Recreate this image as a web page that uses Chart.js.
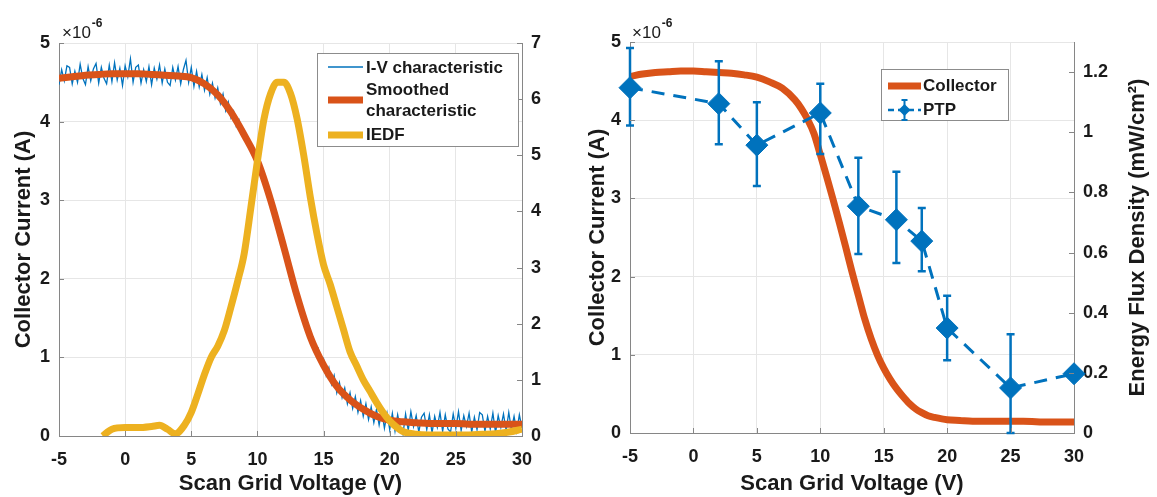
<!DOCTYPE html>
<html><head><meta charset="utf-8">
<script src="https://cdn.jsdelivr.net/npm/chart.js@4.4.1/dist/chart.umd.min.js"></script>
<style>
html,body{margin:0;padding:0;background:#fff;width:1157px;height:497px;overflow:hidden;}
.box{position:absolute;top:0;height:497px;}
</style></head><body>
<div class="box" style="left:0;width:575px"><canvas id="c1"></canvas></div>
<div class="box" style="left:575px;width:582px"><canvas id="c2"></canvas></div>
<script>
// ---------- data ----------
const voltageTicks = [-5, 0, 5, 10, 15, 20, 25, 30];
const currentTicks = [0, 1, 2, 3, 4, 5];
const iedfTicks = [0, 1, 2, 3, 4, 5, 6, 7];
const fluxTicks = [0, 0.2, 0.4, 0.6, 0.8, 1, 1.2];

// I-V characteristic (raw, units of 1e-6 A)
const ivVoltage = [-5,-4.8,-4.6,-4.4,-4.2,-4,-3.8,-3.6,-3.4,-3.2,-3,-2.8,-2.6,-2.4,-2.2,-2,-1.8,-1.6,-1.4,-1.2,-1,-0.8,-0.6,-0.4,-0.2,0,0.2,0.4,0.6,0.8,1,1.2,1.4,1.6,1.8,2,2.2,2.4,2.6,2.8,3,3.2,3.4,3.6,3.8,4,4.2,4.4,4.6,4.8,5,
 5.2,5.4,5.6,5.8,6,6.2,6.4,6.6,6.8,7,7.2,7.4,7.6,7.8,8,8.2,8.4,8.6,8.8,9,9.2,9.4,9.6,9.8,10,
 10.2,10.4,10.6,10.8,11,11.2,11.4,11.6,11.8,12,12.2,12.4,12.6,12.8,13,13.2,13.4,13.6,13.8,14,14.2,14.4,14.6,14.8,15,
 15.2,15.4,15.6,15.8,16,16.2,16.4,16.6,16.8,17,17.2,17.4,17.6,17.8,18,18.2,18.4,18.6,18.8,19,19.2,19.4,19.6,19.8,20,
 20.2,20.4,20.6,20.8,21,21.2,21.4,21.6,21.8,22,22.2,22.4,22.6,22.8,23,23.2,23.4,23.6,23.8,24,24.2,24.4,24.6,24.8,25,
 25.2,25.4,25.6,25.8,26,26.2,26.4,26.6,26.8,27,27.2,27.4,27.6,27.8,28,28.2,28.4,28.6,28.8,29,29.2,29.4,29.6,29.8,30];
const ivCurrent = [4.47,4.66,4.52,4.71,4.69,4.48,4.64,4.50,4.73,4.55,4.47,4.70,4.52,4.67,4.74,4.49,4.69,4.55,4.48,4.72,4.51,4.75,4.53,4.68,4.46,4.71,4.57,4.80,4.50,4.69,4.72,4.49,4.66,4.51,4.70,4.47,4.68,4.54,4.72,4.49,4.67,4.50,4.46,4.69,4.53,4.70,4.48,4.66,4.78,4.50,4.69,
 4.45,4.64,4.44,4.60,4.40,4.56,4.35,4.49,4.30,4.43,4.23,4.35,4.14,4.25,4.05,4.13,3.94,4.02,3.83,3.89,3.72,3.76,3.59,3.62,3.45,
 3.44,3.26,3.25,3.06,3.04,2.84,2.80,2.60,2.57,2.36,2.32,2.11,2.07,1.86,1.83,1.62,1.63,1.41,1.43,1.20,1.25,1.05,1.11,0.91,0.98,
 0.77,0.87,0.66,0.77,0.55,0.68,0.49,0.61,0.41,0.55,0.35,0.50,0.30,0.45,0.25,0.41,0.21,0.37,0.17,0.34,0.14,0.32,0.10,0.29,0.08,
 0.29,0.06,0.27,0.10,0.02,0.28,0.07,0.31,0.12,0.26,0.05,0.24,0.29,0.08,0.27,0.04,0.25,0.11,0.30,0.06,0.27,0.09,0.05,0.28,0.10,
 0.31,0.07,0.26,0.12,0.29,0.05,0.24,0.08,0.30,0.27,0.06,0.25,0.09,0.29,0.04,0.26,0.11,0.28,0.07,0.30,0.08,0.25,0.06,0.27,0.10];

// Smoothed characteristic
const smoothVoltage = [-5,-4,-3,-2,-1,0,1,2,3,4,5,6,7,8,9,10,11,12,13,14,15,16,17,18,19,20,21,22,23,24,25,26,27,28,29,30];
const smoothCurrent = [4.55,4.57,4.59,4.60,4.61,4.61,4.61,4.60,4.59,4.58,4.56,4.48,4.34,4.12,3.83,3.50,3.00,2.40,1.78,1.26,0.90,0.63,0.46,0.34,0.25,0.20,0.18,0.17,0.16,0.16,0.16,0.15,0.15,0.15,0.15,0.15];

// IEDF (right axis, left panel)
const iedfVoltage = [-1.7,-1,0,1,2,2.6,3.2,3.8,4.5,5,5.5,6,6.5,7,7.5,8,8.5,9,9.5,10,10.5,11,11.5,12,12.5,13,13.5,14,14.5,15,15.5,16,16.5,17,17.5,18,18.5,19,19.5,20,20.5,21,22,23,24,25,26,27,28,29,30];
const iedfValue = [0,0.12,0.15,0.15,0.17,0.19,0.12,0.04,0.2,0.42,0.75,1.1,1.4,1.6,1.88,2.3,2.75,3.25,4.06,4.9,5.65,6.1,6.3,6.3,6.1,5.65,5.0,4.25,3.6,3.05,2.7,2.3,1.9,1.5,1.25,1.0,0.8,0.6,0.42,0.27,0.16,0.08,0.03,0.02,0.02,0.02,0.02,0.03,0.04,0.07,0.12];

// Collector (right panel)
const collectorVoltage = [-5,-4,-3,-2,-1,0,1,2,3,4,5,6,7,8,8.5,9,9.5,10,10.5,11,11.5,12,12.5,13,13.5,14,14.5,15,15.5,16,16.5,17,17.5,18,18.5,19,20,21,22,24,26,28,30];
const collectorCurrent = [4.56,4.59,4.61,4.62,4.63,4.63,4.62,4.61,4.60,4.58,4.55,4.49,4.41,4.26,4.15,4.01,3.83,3.56,3.28,2.99,2.69,2.38,2.06,1.76,1.46,1.21,1.00,0.83,0.69,0.57,0.47,0.38,0.31,0.26,0.22,0.20,0.17,0.16,0.15,0.15,0.15,0.14,0.14];

// PTP energy flux density (mW/cm^2) with error bars
const ptpVoltage = [-5, 2, 5, 10, 13, 16, 18, 20, 25, 30];
const ptpFlux    = [1.148, 1.095, 0.957, 1.064, 0.754, 0.709, 0.638, 0.349, 0.150, 0.197];
const ptpLow     = [1.022, 0.960, 0.821, 0.928, 0.595, 0.565, 0.538, 0.242, 0.000, 0.197];
const ptpHigh    = [1.280, 1.236, 1.100, 1.161, 0.915, 0.869, 0.748, 0.456, 0.328, 0.197];

// ---------- styles ----------
const BLUE = '#0072BD', ORANGE = '#D95319', YELLOW = '#EDB120';
const GRID = '#e6e6e6', AXIS = '#868686', TXT = '#1a1a1a';
const FONT = "'Liberation Sans', Arial, sans-serif";
const tickFont = {family: FONT, size: 18, weight: 'bold'};
const titleFont = {family: FONT, size: 22, weight: 'bold'};

const pts = (xs, ys) => xs.map((x, i) => ({x, y: ys[i]}));
const setTicks = arr => (s => { s.ticks = arr.map(v => ({value: v})); });
const fmt = v => String(Number(v.toFixed(2)));

Chart.defaults.font.family = FONT;

// inward tick marks
const innerTicks = {
  id: 'innerTicks',
  afterDraw(chart) {
    const {ctx, chartArea: a} = chart;
    ctx.save(); ctx.strokeStyle = AXIS; ctx.lineWidth = 1; ctx.beginPath();
    Object.values(chart.scales).forEach(s => {
      s.ticks.forEach(t => {
        const p = Math.round(s.getPixelForValue(t.value)) + 0.5;
        if (s.axis === 'x') { ctx.moveTo(p, a.bottom); ctx.lineTo(p, a.bottom - 5); }
        else if (s.position === 'left') { ctx.moveTo(a.left, p); ctx.lineTo(a.left + 5, p); }
        else { ctx.moveTo(a.right, p); ctx.lineTo(a.right - 5, p); }
      });
    });
    ctx.stroke(); ctx.restore();
  }
};

// exponent label, custom legend, rotated right title
const decorations = {
  id: 'decorations',
  afterDraw(chart, args, o) {
    const {ctx} = chart;
    ctx.save();
    ctx.fillStyle = TXT; ctx.textBaseline = 'middle'; ctx.textAlign = 'left';
    // x10^-6
    ctx.font = `17px ${FONT}`;
    ctx.fillText('\u00d710', o.expX, 33);
    const w = ctx.measureText('\u00d710').width;
    ctx.font = `bold 12px ${FONT}`;
    ctx.fillText('-6', o.expX + w + 1, 24);
    // legend
    const L = o.legend;
    ctx.fillStyle = '#fff'; ctx.fillRect(L.x, L.y, L.w, L.h);
    ctx.strokeStyle = '#8c8c8c'; ctx.lineWidth = 1;
    ctx.strokeRect(L.x + 0.5, L.y + 0.5, L.w, L.h);
    L.items.forEach(it => {
      ctx.save();
      ctx.strokeStyle = it.color; ctx.lineWidth = it.width; ctx.setLineDash(it.dash || []);
      ctx.beginPath(); ctx.moveTo(L.lx0, it.ly); ctx.lineTo(L.lx1, it.ly); ctx.stroke();
      ctx.setLineDash([]);
      if (it.marker) {
        const cx = (L.lx0 + L.lx1) / 2;
        ctx.lineWidth = 2;
        ctx.beginPath(); ctx.moveTo(cx, it.ly - 10); ctx.lineTo(cx, it.ly + 10);
        ctx.moveTo(cx - 3, it.ly - 10); ctx.lineTo(cx + 3, it.ly - 10);
        ctx.moveTo(cx - 3, it.ly + 10); ctx.lineTo(cx + 3, it.ly + 10); ctx.stroke();
        ctx.fillStyle = it.color; ctx.beginPath();
        ctx.moveTo(cx, it.ly - 6); ctx.lineTo(cx + 6, it.ly); ctx.lineTo(cx, it.ly + 6); ctx.lineTo(cx - 6, it.ly); ctx.closePath(); ctx.fill();
      }
      ctx.restore();
      ctx.fillStyle = TXT; ctx.font = `bold 17px ${FONT}`;
      it.text.forEach((t, k) => ctx.fillText(t, L.tx, it.ty[k]));
    });
    // rotated right title (reads bottom to top)
    if (o.rightTitle) {
      const a = chart.chartArea;
      ctx.translate(o.rightTitleX, (a.top + a.bottom) / 2);
      ctx.rotate(-Math.PI / 2);
      ctx.textAlign = 'center'; ctx.font = `bold 22px ${FONT}`; ctx.fillStyle = TXT;
      ctx.fillText(o.rightTitle, 0, 0);
    }
    ctx.restore();
  }
};

// error bars for PTP (drawn after the collector line, under the PTP markers)
const errorBars = {
  id: 'errorBars',
  afterDatasetDraw(chart, args) {
    if (args.index !== 0) return;
    const {ctx} = chart, xs = chart.scales.x, ys = chart.scales.y2;
    ctx.save(); ctx.strokeStyle = BLUE; ctx.lineWidth = 2.5; ctx.beginPath();
    ptpVoltage.forEach((v, i) => {
      const px = xs.getPixelForValue(v), t = ys.getPixelForValue(ptpHigh[i]), b = ys.getPixelForValue(ptpLow[i]);
      if (Math.abs(b - t) < 1) return;
      ctx.moveTo(px, t); ctx.lineTo(px, b);
      ctx.moveTo(px - 4, t); ctx.lineTo(px + 4, t);
      ctx.moveTo(px - 4, b); ctx.lineTo(px + 4, b);
    });
    ctx.stroke(); ctx.restore();
  }
};

function xScale(h) {
  return {
    type: 'linear', min: -5, max: 30, afterBuildTicks: setTicks(voltageTicks),
    grid: {color: GRID, drawTicks: false}, border: {color: AXIS},
    ticks: {font: tickFont, color: TXT, padding: 13, maxRotation: 0, autoSkip: false, callback: fmt},
    title: {display: true, text: 'Scan Grid Voltage (V)', font: titleFont, color: TXT, padding: {top: 0, bottom: 0}},
    afterFit: s => { s.height = h; }
  };
}
function yLeft(w, tp) {
  return {
    type: 'linear', position: 'left', min: 0, max: 5, afterBuildTicks: setTicks(currentTicks),
    grid: {color: GRID, drawTicks: false}, border: {color: AXIS},
    ticks: {font: tickFont, color: TXT, padding: 9, callback: fmt},
    title: {display: true, text: 'Collector Current (A)', font: titleFont, color: TXT, padding: {top: tp, bottom: 0}},
    afterFit: s => { s.width = w; }
  };
}
function yRight(max, ticks, w) {
  return {
    type: 'linear', position: 'right', min: 0, max: max, afterBuildTicks: setTicks(ticks),
    grid: {drawOnChartArea: false, drawTicks: false}, border: {color: AXIS},
    ticks: {font: tickFont, color: TXT, padding: 9, callback: fmt},
    afterFit: s => { s.width = w; }
  };
}

new Chart(document.getElementById('c1'), {
  type: 'line',
  data: {datasets: [
    {label: 'IEDF', data: pts(iedfVoltage, iedfValue), yAxisID: 'y2', borderColor: YELLOW, borderWidth: 7,
     pointRadius: 0, cubicInterpolationMode: 'monotone', order: 0},
    {label: 'Smoothed characteristic', data: pts(smoothVoltage, smoothCurrent), yAxisID: 'y', borderColor: ORANGE, borderWidth: 7,
     pointRadius: 0, cubicInterpolationMode: 'monotone', order: 1},
    {label: 'I-V characteristic', data: pts(ivVoltage, ivCurrent), yAxisID: 'y', borderColor: BLUE, borderWidth: 1.3,
     pointRadius: 0, tension: 0, order: 2}
  ]},
  options: {
    responsive: true, maintainAspectRatio: false, animation: false, devicePixelRatio: 1,
    layout: {padding: {top: 43, left: 0, right: 0, bottom: 0}},
    plugins: {
      legend: {display: false}, tooltip: {enabled: false},
      decorations: {
        expX: 62,
        legend: {x: 317, y: 53, w: 201, h: 93, lx0: 328, lx1: 363, tx: 366, items: [
          {text: ['I-V characteristic'], ty: [68], color: BLUE, width: 1.5, ly: 67},
          {text: ['Smoothed', 'characteristic'], ty: [90, 111], color: ORANGE, width: 7, ly: 100},
          {text: ['IEDF'], ty: [135], color: YELLOW, width: 7, ly: 135}
        ]}
      }
    },
    scales: {x: xScale(61), y: yLeft(59, 11), y2: yRight(7, iedfTicks, 53)}
  },
  plugins: [innerTicks, decorations]
});

new Chart(document.getElementById('c2'), {
  type: 'line',
  data: {datasets: [
    {label: 'Collector', data: pts(collectorVoltage, collectorCurrent), yAxisID: 'y', borderColor: ORANGE, borderWidth: 7,
     pointRadius: 0, cubicInterpolationMode: 'monotone', order: 1},
    {label: 'PTP', data: pts(ptpVoltage, ptpFlux), yAxisID: 'y2', borderColor: BLUE, backgroundColor: BLUE, borderWidth: 3,
     borderDash: [13, 9], pointStyle: 'rectRot', pointRadius: 11, pointBorderWidth: 1, pointBackgroundColor: BLUE,
     pointBorderColor: BLUE, tension: 0, clip: false, order: 0}
  ]},
  options: {
    responsive: true, maintainAspectRatio: false, animation: false, devicePixelRatio: 1,
    layout: {padding: {top: 42, left: 0, right: 0, bottom: 0}},
    plugins: {
      legend: {display: false}, tooltip: {enabled: false},
      decorations: {
        expX: 57,
        rightTitle: 'Energy Flux Density (mW/cm\u00b2)', rightTitleX: 563,
        legend: {x: 306, y: 69, w: 127, h: 51, lx0: 313, lx1: 346, tx: 348, items: [
          {text: ['Collector'], ty: [86], color: ORANGE, width: 7, ly: 86},
          {text: ['PTP'], ty: [110], color: BLUE, width: 2.5, ly: 110, dash: [6, 4], marker: true}
        ]}
      }
    },
    scales: {x: xScale(64), y: yLeft(55, 10), y2: yRight(1.3, fluxTicks, 83)}
  },
  plugins: [errorBars, innerTicks, decorations]
});
</script>
</body></html>
